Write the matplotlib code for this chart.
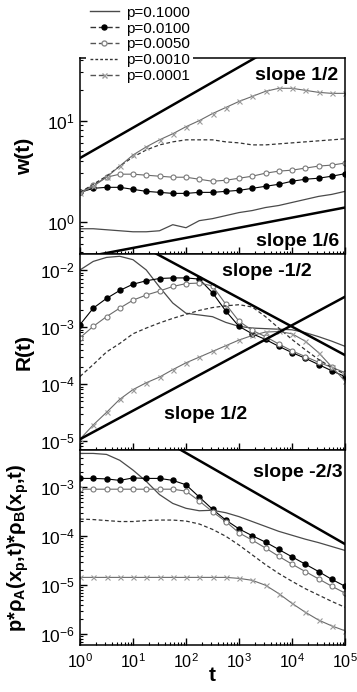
import numpy as np
import matplotlib
matplotlib.use("Agg")
import matplotlib.pyplot as plt
from matplotlib.lines import Line2D

plt.rcParams['font.family'] = ['Liberation Sans', 'DejaVu Sans']
plt.rcParams['mathtext.fontset'] = 'custom'
plt.rcParams['mathtext.rm'] = 'Liberation Sans'
plt.rcParams['mathtext.it'] = 'Liberation Sans:italic'
plt.rcParams['mathtext.bf'] = 'Liberation Sans:bold'

# ---------------- data (log10 of values) ----------------
t_log10 = [0, 0.25, 0.5, 0.75, 1.0, 1.25, 1.5, 1.75, 2.0, 2.25, 2.5,
           2.75, 3.0, 3.25, 3.5, 3.75, 4.0, 4.25, 4.5, 4.75, 5.0]

labels = ["p=0.1000", "p=0.0100", "p=0.0050", "p=0.0010", "p=0.0001"]

# panel 1: w(t)
w_p1000 = [-0.07, -0.07, -0.08, -0.09, -0.10, -0.10, -0.09, -0.03, -0.06, 0.01, 0.03,
           0.06, 0.09, 0.11, 0.14, 0.16, 0.19, 0.22, 0.25, 0.27, 0.30]
w_p0100 = [0.29, 0.33, 0.34, 0.34, 0.32, 0.30, 0.29, 0.28, 0.28, 0.29, 0.29,
           0.30, 0.31, 0.33, 0.35, 0.37, 0.40, 0.42, 0.43, 0.45, 0.475]
w_p0050 = [0.29, 0.36, 0.44, 0.47, 0.47, 0.46, 0.45, 0.44, 0.44, 0.42, 0.40,
           0.41, 0.43, 0.45, 0.48, 0.50, 0.51, 0.53, 0.55, 0.56, 0.58]
w_p0010 = [0.29, 0.37, 0.45, 0.55, 0.64, 0.71, 0.76, 0.79, 0.81, 0.81, 0.81,
           0.79, 0.78, 0.76, 0.76, 0.77, 0.78, 0.79, 0.80, 0.81, 0.82]
w_p0001 = [0.28, 0.35, 0.44, 0.55, 0.66, 0.74, 0.81, 0.87, 0.94, 1.00, 1.07,
           1.13, 1.19, 1.24, 1.29, 1.32, 1.32, 1.30, 1.28, 1.27, 1.27]

# panel 2: R(t)
R_p1000 = [-2.00, -1.85, -1.78, -1.76, -1.82, -2.00, -2.30, -2.58, -2.76, -2.79, -2.82,
           -2.92, -2.99, -3.02, -3.03, -3.04, -3.05, -3.10, -3.17, -3.25, -3.34]
R_p0100 = [-2.96, -2.67, -2.50, -2.36, -2.25, -2.19, -2.15, -2.14, -2.14, -2.16, -2.40,
           -2.72, -2.99, -3.12, -3.22, -3.34, -3.45, -3.55, -3.66, -3.77, -3.87]
R_p0050 = [-3.19, -2.99, -2.82, -2.67, -2.53, -2.44, -2.37, -2.29, -2.24, -2.23, -2.28,
           -2.60, -2.90, -3.06, -3.17, -3.30, -3.42, -3.52, -3.62, -3.71, -3.80]
R_p0010 = [-3.87, -3.66, -3.44, -3.29, -3.12, -3.02, -2.93, -2.85, -2.78, -2.71, -2.66,
           -2.63, -2.61, -2.65, -2.82, -3.02, -3.22, -3.40, -3.57, -3.71, -3.83]
R_p0001 = [-4.97, -4.72, -4.50, -4.27, -4.10, -3.98, -3.88, -3.75, -3.63, -3.53, -3.43,
           -3.33, -3.23, -3.15, -3.09, -3.08, -3.12, -3.25, -3.45, -3.70, -3.95]

# panel 3: p*rhoA*rhoB
P_p1000 = [-2.31, -2.31, -2.33, -2.45, -2.65, -2.88, -3.15, -3.33, -3.43, -3.48, -3.47,
           -3.52, -3.60, -3.70, -3.80, -3.90, -3.98, -4.06, -4.13, -4.21, -4.29]
P_p0100 = [-2.82, -2.82, -2.83, -2.86, -2.81, -2.82, -2.82, -2.86, -2.95, -3.20, -3.45,
           -3.67, -3.85, -3.99, -4.12, -4.27, -4.42, -4.57, -4.72, -4.88, -5.02]
P_p0050 = [-3.04, -3.04, -3.04, -3.04, -3.04, -3.04, -3.04, -3.04, -3.08, -3.28, -3.50,
           -3.70, -3.93, -4.08, -4.24, -4.41, -4.57, -4.72, -4.87, -5.02, -5.16]
P_p0010 = [-3.65, -3.66, -3.68, -3.70, -3.70, -3.68, -3.67, -3.67, -3.69, -3.75, -3.86,
           -4.00, -4.18, -4.38, -4.58, -4.76, -4.92, -5.07, -5.20, -5.33, -5.45]
P_p0001 = [-4.84, -4.84, -4.84, -4.84, -4.84, -4.84, -4.84, -4.84, -4.84, -4.84, -4.84,
           -4.84, -4.86, -4.90, -5.00, -5.17, -5.37, -5.55, -5.71, -5.83, -5.93]

# reference lines: (anchor log10 t, anchor log10 y, slope in log-log display)
ref1_up = (0.0, 0.63, 0.30)
ref1_low = (5.0, 0.14, 0.10)
ref2_down = (1.45, -1.72, -0.50)
ref2_up = (0.0, -4.97, 0.50)
ref3_down = (5.0, -4.16, -0.62)

# ---------------- styles ----------------
styles = [
    dict(color='#4a4a4a', lw=0.9, ls='-', marker=None),
    dict(color='black', lw=0.8, ls='-', marker='o', ms=3.6, mfc='black', mec='black'),
    dict(color='#6a6a6a', lw=0.8, ls='-', marker='o', ms=3.6, mfc='white', mec='#7a7a7a', mew=0.8),
    dict(color='#333333', lw=0.9, ls=(0, (3, 2)), marker=None),
    dict(color='#6a6a6a', lw=0.8, ls='-', marker='x', ms=3.6, mec='#9a9a9a', mew=0.8),
]

t = 10.0 ** np.array(t_log10)

fig = plt.figure(figsize=(3.57, 6.92), dpi=100)
left, width = 80 / 357, 265 / 357
ax1 = fig.add_axes([left, 1 - 254 / 692, width, 196 / 692])
ax2 = fig.add_axes([left, 1 - 450 / 692, width, 196 / 692])
ax3 = fig.add_axes([left, 1 - 645 / 692, width, 195 / 692])

panels = [
    (ax1, [w_p1000, w_p0100, w_p0050, w_p0010, w_p0001], (-0.32, 1.62), [ref1_up, ref1_low]),
    (ax2, [R_p1000, R_p0100, R_p0050, R_p0010, R_p0001], (-5.16, -1.72), [ref2_down, ref2_up]),
    (ax3, [P_p1000, P_p0100, P_p0050, P_p0010, P_p0001], (-6.22, -2.24), [ref3_down]),
]

tl = np.array([0.0, 5.0])
for ax, series, ylim, refs in panels:
    for vals, st in zip(series, styles):
        ax.plot(t, 10.0 ** np.array(vals), **st)
    for (x0, y0, s) in refs:
        ax.plot(10.0 ** tl, 10.0 ** (y0 + s * (tl - x0)), color='black', lw=1.8, zorder=5)
    ax.set_xscale('log')
    ax.set_yscale('log')
    ax.set_xlim(1, 1e5)
    ax.set_ylim(10 ** ylim[0], 10 ** ylim[1])
    ax.tick_params(which='both', direction='in', top=False, right=False, labelsize=12.5)
    ax.tick_params(which='major', length=5, width=1)
    ax.tick_params(which='minor', length=2.5, width=0.8)
    ax.xaxis.set_major_locator(matplotlib.ticker.LogLocator(base=10, numticks=10))
    ax.xaxis.set_minor_locator(matplotlib.ticker.LogLocator(base=10, subs=np.arange(2, 10), numticks=10))
    ax.yaxis.set_minor_locator(matplotlib.ticker.LogLocator(base=10, subs=np.arange(2, 10), numticks=20))
    for sp in ax.spines.values():
        sp.set_linewidth(1.1)

ax1.tick_params(labelbottom=False)
ax2.tick_params(labelbottom=False)
ax3.tick_params(axis='x', pad=5, labelsize=11.6)

bold = dict(fontsize=15, fontweight='bold')
ax1.set_ylabel('w(t)', **bold)
ax2.set_ylabel('R(t)', **bold)
ax3.set_ylabel(r'p*ρ$_\mathbf{A}$(x$_\mathbf{p}$,t)*ρ$_\mathbf{B}$(x$_\mathbf{p}$,t)', fontsize=14.5, fontweight='bold')
ax3.set_xlabel('t', fontsize=15, fontweight='bold', labelpad=-3)
ax1.yaxis.set_label_coords(-0.175, 0.5)
ax2.yaxis.set_label_coords(-0.175, 0.5)
ax3.yaxis.set_label_coords(-0.185, 0.5)

tb = dict(fontsize=14, fontweight='bold')
ax1.text(0.975, 0.913, 'slope 1/2', transform=ax1.transAxes, ha='right', va='center', **tb)
ax1.text(0.98, 0.065, 'slope 1/6', transform=ax1.transAxes, ha='right', va='center', **tb)
ax2.text(0.706, 0.913, 'slope -1/2', transform=ax2.transAxes, ha='center', va='center', **tb)
ax2.text(0.475, 0.18, 'slope 1/2', transform=ax2.transAxes, ha='center', va='center', **tb)
ax3.text(0.99, 0.887, 'slope -2/3', transform=ax3.transAxes, ha='right', va='center', **tb)

# legend
handles = [
    Line2D([], [], color='#4a4a4a', lw=1.0, ls='-'),
    Line2D([], [], color='#333333', lw=1.0, ls=(0, (4, 2)), marker='o', ms=3.6, mfc='black', mec='black'),
    Line2D([], [], color='#555555', lw=1.0, ls=(0, (4, 2)), marker='o', ms=3.6, mfc='white', mec='#888888'),
    Line2D([], [], color='#333333', lw=1.0, ls=(0, (2, 1.5))),
    Line2D([], [], color='#555555', lw=1.0, ls=(0, (4, 2)), marker='x', ms=3.6, mec='#999999'),
]
leg = fig.legend(handles, labels, loc='upper left', bbox_to_anchor=(86 / 357, 1 - 2 / 692),
                 fontsize=11, frameon=True, fancybox=False, handlelength=1.9,
                 handletextpad=0.45, labelspacing=0.12, borderpad=0.25, borderaxespad=0)
leg.get_frame().set_edgecolor('none')
leg.get_frame().set_facecolor('white')
leg.get_frame().set_alpha(1)

fig.savefig('out.png', dpi=100)
